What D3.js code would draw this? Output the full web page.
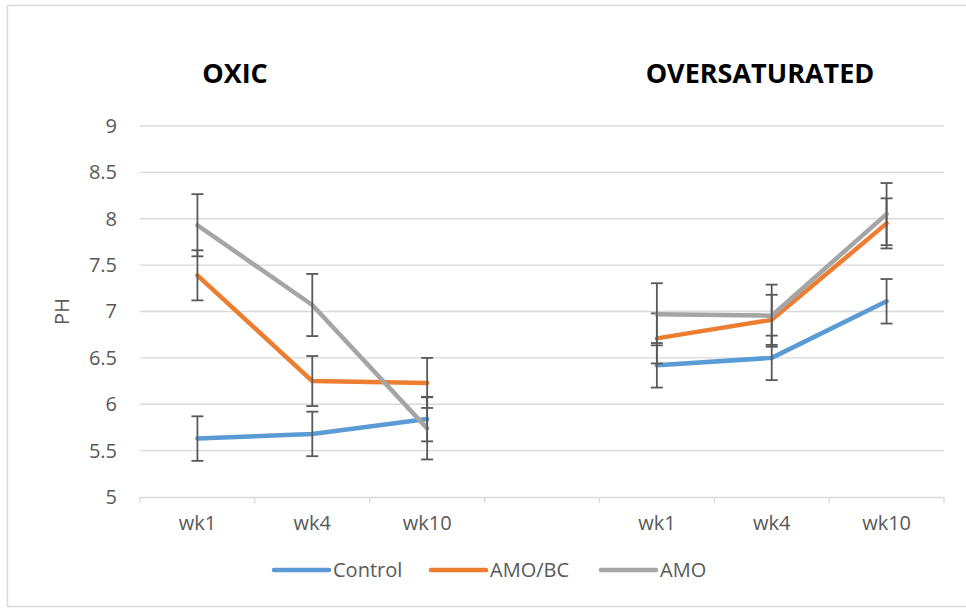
<!DOCTYPE html>
<html>
<head>
<meta charset="utf-8">
<script src="https://cdn.jsdelivr.net/npm/d3@7"></script>
<style>
  body { margin: 0; background: #fff; }
  text { font-family: "Open Sans", "Liberation Sans", sans-serif; }
</style>
</head>
<body>
<div id="chart"></div>
<script>
////// DATA

// Kategorien (leere Spalte trennt die beiden Gruppen)
var categories = ["wk1", "wk4", "wk10", "", "wk1", "wk4", "wk10"];
var groupTitles = ["OXIC", "OVERSATURATED"];
var seriesNames = ["Control", "AMO/BC", "AMO"];
var seriesColors = ["#5b9bd5", "#ed7d31", "#a5a5a5"];

// pH-Werte je Serie
var control = [5.63, 5.68, 5.84, null, 6.42, 6.50, 7.11];
var amoBc   = [7.39, 6.25, 6.23, null, 6.71, 6.91, 7.95];
var amo     = [7.93, 7.07, 5.74, null, 6.97, 6.955, 8.05];

// Fehlerbalken (+/-)
var controlErr = [0.24, 0.24, 0.24, null, 0.24, 0.24, 0.24];
var amoBcErr   = [0.27, 0.27, 0.27, null, 0.27, 0.27, 0.27];
var amoErr     = [0.335, 0.335, 0.335, null, 0.335, 0.335, 0.335];

var yTicks = [5, 5.5, 6, 6.5, 7, 7.5, 8, 8.5, 9];

var series = [
  { name: seriesNames[0], color: seriesColors[0], values: control, err: controlErr },
  { name: seriesNames[1], color: seriesColors[1], values: amoBc, err: amoBcErr },
  { name: seriesNames[2], color: seriesColors[2], values: amo, err: amoErr }
];

////// CHART

var width = 966, height = 608;
var plotLeft = 140, plotRight = 944, plotTop = 126, plotBottom = 497;

var svg = d3.select("#chart")
  .append("svg")
  .attr("width", width)
  .attr("height", height);

// Rahmen
svg.append("rect")
  .attr("x", 7.5).attr("y", 5.5)
  .attr("width", 964).attr("height", 601)
  .style("fill", "none")
  .style("stroke", "#d9d9d9")
  .style("stroke-width", 1.5);

var x = d3.scaleBand()
  .domain(d3.range(categories.length))
  .range([plotLeft, plotRight])
  .padding(0);

var y = d3.scaleLinear()
  .domain([5, 9])
  .range([plotBottom, plotTop]);

// Gitterlinien
svg.append("g")
  .selectAll("line")
  .data(yTicks.slice(1))
  .enter().append("line")
  .attr("x1", plotLeft).attr("x2", plotRight)
  .attr("y1", function(d) { return y(d); })
  .attr("y2", function(d) { return y(d); })
  .style("stroke", "#d9d9d9")
  .style("stroke-width", 1.3);

// y-Achse (nur Beschriftung)
var yAxis = svg.append("g")
  .attr("transform", "translate(" + plotLeft + ",0)")
  .call(d3.axisLeft(y).tickValues(yTicks).tickFormat(function(d) { return String(d); })
    .tickSize(0).tickPadding(23));
yAxis.select(".domain").remove();
yAxis.selectAll("text")
  .style("font-size", "20px")
  .style("fill", "#595959")
  .style("font-family", "'Open Sans', sans-serif");

// x-Achse
var xAxis = svg.append("g")
  .attr("transform", "translate(0," + plotBottom + ")")
  .call(d3.axisBottom(x).tickFormat(function(i) { return categories[i]; }).tickSize(0).tickPadding(19));
xAxis.select(".domain")
  .style("stroke", "#d9d9d9")
  .style("stroke-width", 1.3);
xAxis.selectAll("text")
  .style("font-size", "20px")
  .style("fill", "#595959")
  .style("font-family", "'Open Sans', sans-serif");

// Teilstriche zwischen den Kategorien
var boundaries = d3.range(categories.length).map(function(i) { return x(i); }).concat([plotRight]);
xAxis.selectAll(".cat-tick")
  .data(boundaries)
  .enter().append("line")
  .attr("class", "cat-tick")
  .attr("x1", function(d) { return d; })
  .attr("x2", function(d) { return d; })
  .attr("y1", 0).attr("y2", 6)
  .style("stroke", "#d9d9d9")
  .style("stroke-width", 1.3);

// Achsentitel
svg.append("text")
  .attr("transform", "translate(69," + y(7) + ") rotate(-90)")
  .attr("text-anchor", "middle")
  .style("font-size", "20px")
  .style("fill", "#595959")
  .text("PH");

// Gruppentitel
var titleX = [235, 760];
svg.selectAll(".group-title")
  .data(groupTitles)
  .enter().append("text")
  .attr("class", "group-title")
  .attr("x", function(d, i) { return titleX[i]; })
  .attr("y", 83)
  .attr("text-anchor", "middle")
  .style("font-size", "27px")
  .style("font-weight", "bold")
  .style("fill", "#000")
  .text(function(d) { return d; });

// Linien mit Fehlerbalken, in Serienreihenfolge
var line = d3.line()
  .defined(function(d) { return d != null; })
  .x(function(d, i) { return x(i) + x.bandwidth() / 2; })
  .y(function(d) { return y(d); });

series.forEach(function(s) {
  var g = svg.append("g");

  g.append("path")
    .datum(s.values)
    .attr("d", line)
    .style("fill", "none")
    .style("stroke", s.color)
    .style("stroke-width", 4.5)
    .style("stroke-linecap", "round")
    .style("stroke-linejoin", "round");

  var pts = s.values.map(function(v, i) { return { i: i, v: v, e: s.err[i] }; })
    .filter(function(d) { return d.v != null; });

  var eb = g.selectAll(".err")
    .data(pts)
    .enter().append("g")
    .attr("transform", function(d) { return "translate(" + (x(d.i) + x.bandwidth() / 2) + ",0)"; });

  eb.append("line")
    .attr("x1", 0).attr("x2", 0)
    .attr("y1", function(d) { return y(d.v + d.e); })
    .attr("y2", function(d) { return y(d.v - d.e); });
  eb.append("line")
    .attr("x1", -6).attr("x2", 6)
    .attr("y1", function(d) { return y(d.v + d.e); })
    .attr("y2", function(d) { return y(d.v + d.e); });
  eb.append("line")
    .attr("x1", -6).attr("x2", 6)
    .attr("y1", function(d) { return y(d.v - d.e); })
    .attr("y2", function(d) { return y(d.v - d.e); });
  eb.selectAll("line")
    .style("stroke", "#595959")
    .style("stroke-width", 1.8);
});

// Legende
var legendX = [274, 431, 601];
var legend = svg.selectAll(".legend")
  .data(series)
  .enter().append("g")
  .attr("class", "legend")
  .attr("transform", function(d, i) { return "translate(" + legendX[i] + ",570)"; });

legend.append("line")
  .attr("x1", 0).attr("x2", 55)
  .attr("y1", 0).attr("y2", 0)
  .style("stroke", function(d) { return d.color; })
  .style("stroke-width", 4.5)
  .style("stroke-linecap", "round");

legend.append("text")
  .attr("x", 59)
  .attr("y", 7)
  .style("font-size", "20px")
  .style("fill", "#595959")
  .text(function(d) { return d.name; });
</script>
</body>
</html>
